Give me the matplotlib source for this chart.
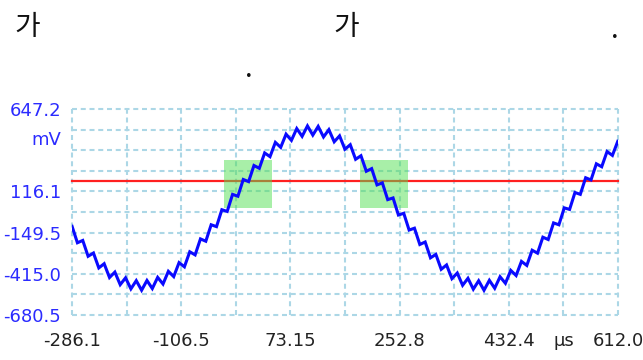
import matplotlib
matplotlib.use("Agg")
import matplotlib.pyplot as plt
from matplotlib.patches import Rectangle

# Captured waveform: time (µs) and voltage (mV) at ripple peaks / troughs
time_us = [
    -286.0, -277.2, -268.4, -259.6, -250.8, -242.0, -233.2, -224.4, -215.6, -206.8,
    -198.0, -189.2, -180.4, -171.6, -162.8, -154.0, -145.2, -136.4, -127.6, -118.8,
    -110.0, -101.2, -92.4, -83.6, -74.8, -66.0, -57.2, -48.4, -39.6, -30.8,
    -22.0, -13.2, -4.4, 4.4, 13.2, 22.0, 30.8, 39.6, 48.4, 57.2,
    66.0, 74.8, 83.6, 92.4, 101.2, 110.0, 118.8, 127.6, 136.4, 145.2,
    154.0, 162.8, 171.6, 180.4, 189.2, 198.0, 206.8, 215.6, 224.4, 233.2,
    242.0, 250.8, 259.6, 268.4, 277.2, 286.0, 294.8, 303.6, 312.4, 321.2,
    330.0, 338.8, 347.6, 356.4, 365.2, 374.0, 382.8, 391.6, 400.4, 409.2,
    418.0, 426.8, 435.6, 444.4, 453.2, 462.0, 470.8, 479.6, 488.4, 497.2,
    506.0, 514.8, 523.6, 532.4, 541.2, 550.0, 558.8, 567.6, 576.4, 585.2,
    594.0, 602.8, 611.6,
]
volt_mv = [
    -109, -215, -200, -302, -281, -377, -350, -439, -404, -485,
    -441, -512, -459, -521, -458, -510, -438, -481, -399, -433,
    -343, -370, -273, -293, -190, -205, -99, -111, -2, -13,
    97, 85, 193, 179, 283, 265, 364, 340, 432, 400,
    485, 445, 521, 471, 538, 479, 535, 467, 514, 436,
    474, 388, 417, 323, 346, 246, 263, 158, 171, 63,
    74, -36, -25, -133, -121, -226, -210, -312, -290, -386,
    -358, -446, -410, -489, -444, -514, -460, -521, -457, -508,
    -434, -476, -393, -426, -335, -361, -263, -282, -179, -194,
    -87, -99, 10, 0, 109, 97, 204, 190, 294, 275,
    373, 348, 439,
]

# Scope graticule: 10 divisions each way
x_ticks = [-286.1, -196.29, -106.48, -16.67, 73.14, 162.95,
           252.76, 342.57, 432.38, 522.19, 612.0]
x_labels = ["-286.1", "", "-106.5", "", "73.15", "", "252.8", "", "432.4", "µs", "612.0"]
y_ticks = [-680.5, -547.73, -414.96, -282.19, -149.42, -16.65,
           116.12, 248.89, 381.66, 514.43, 647.2]
y_labels = ["-680.5", "", "-415.0", "", "-149.5", "", "116.1", "", "", "", "647.2"]
y_unit = "mV"
y_unit_level = 447

trigger_level = 185
window_spans = [(-36, 43), (188, 266)]
window_low, window_high = 7, 318

header_glyphs = [("가", 14, 27), ("가", 333, 27), (".", 611, 30), (".", 245, 69)]

fig = plt.figure(figsize=(6.43, 3.60), dpi=100)
ax = fig.add_axes([72 / 643, 1 - 315 / 360, 546 / 643, 206 / 360])
ax.set_xlim(x_ticks[0], x_ticks[-1])
ax.set_ylim(y_ticks[0], y_ticks[-1])

for s in ax.spines.values():
    s.set_visible(False)

grid_color = "#acd7e6"
ax.set_xticks(x_ticks)
ax.set_xticklabels(x_labels)
ax.set_yticks(y_ticks)
ax.set_yticklabels(y_labels)
ax.tick_params(axis="both", length=0)
ax.tick_params(axis="x", pad=12, labelsize=13, labelcolor="#222222")
ax.tick_params(axis="y", pad=8, labelsize=13, labelcolor="#2b2bff")
ax.grid(True, color=grid_color, linewidth=1.5, linestyle=(0, (2.4, 1.8)), zorder=0)
for gl in ax.get_xgridlines() + ax.get_ygridlines():
    gl.set_clip_on(False)

ax.annotate(y_unit, xy=(0, y_unit_level), xycoords=("axes fraction", "data"),
            xytext=(-8, 0), textcoords="offset points", ha="right", va="center",
            fontsize=13, color="#2b2bff")

ax.plot([x_ticks[0], x_ticks[-1]], [trigger_level, trigger_level],
        color="#ff2020", linewidth=1.6, zorder=2, clip_on=False)

for x0, x1 in window_spans:
    ax.add_patch(Rectangle((x0, window_low), x1 - x0, window_high - window_low,
                           facecolor=(0.32, 0.88, 0.32), alpha=0.5,
                           edgecolor="none", zorder=3))

ax.plot(time_us, volt_mv, color="#0a0aff", linewidth=2.2, zorder=4,
        solid_joinstyle="miter")

for txt, px, py in header_glyphs:
    fig.text(px / 643, 1 - py / 360, txt, fontsize=20, ha="left", va="center",
             family=["Noto Sans CJK KR", "DejaVu Sans"], color="#111111")

fig.savefig("out.png", dpi=100)
